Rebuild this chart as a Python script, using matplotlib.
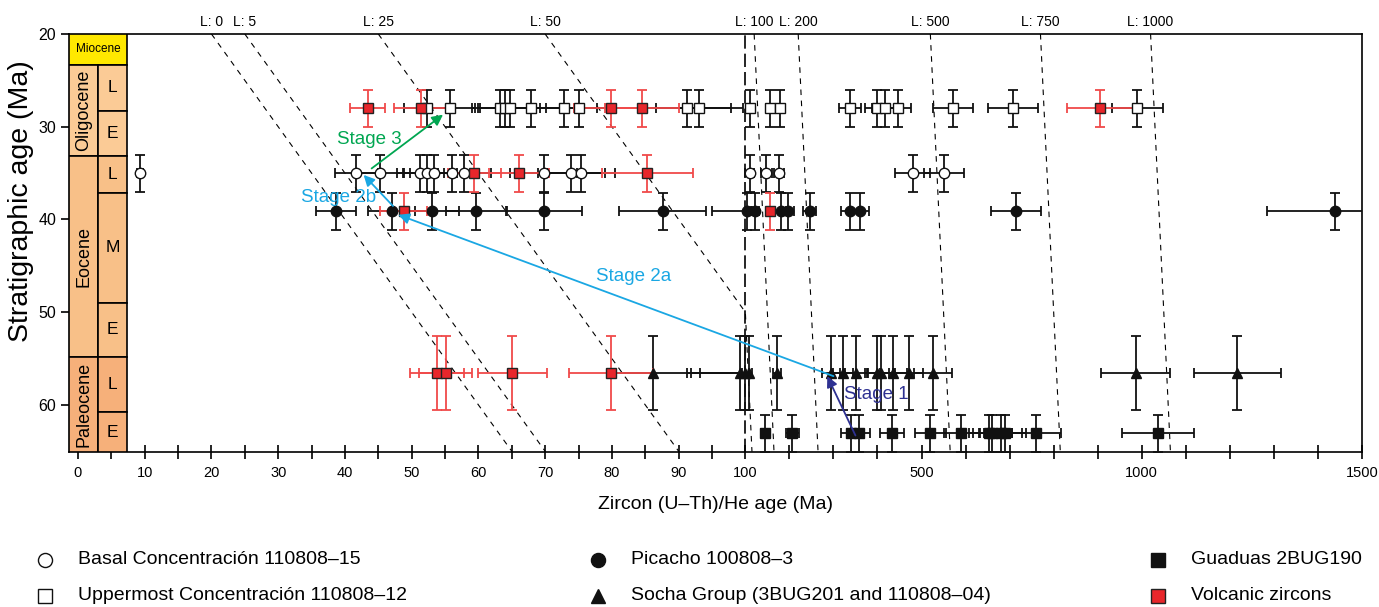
import numpy as np
import matplotlib
matplotlib.use("Agg")
import matplotlib.pyplot as plt
from matplotlib.patches import Rectangle
from matplotlib.lines import Line2D

plt.rcParams["font.family"] = ["Liberation Sans", "DejaVu Sans"]

# ---------------------------------------------------------------- data
# Uppermost Concentración 110808-12 (stratigraphic age 28 Ma)
upper_strat = 28.0
upper_age = [52.3, 55.7, 63.3, 64.0, 64.8, 67.9, 72.8, 75.1, 91.3, 93.1,
             111, 157, 178, 337, 399, 418, 446, 571, 708, 990]
upper_err = [3.5, 3.8, 4.2, 4.0, 4.5, 4.5, 5.0, 5.0, 6.5, 6.5,
             9, 10, 12, 25, 28, 30, 30, 45, 56, 58]
upper_volc_age = [43.4, 51.4, 79.8, 84.5, 905]
upper_volc_err = [2.6, 4.0, 5.5, 5.5, 75]

# Basal Concentración 110808-15 (35 Ma)
basal_strat = 35.0
basal_age = [9.3, 41.7, 45.2, 51.3, 52.3, 53.3, 56.1, 57.9, 69.8, 73.9, 75.4,
             110, 148, 176, 480, 551]
basal_err = [0.4, 3.2, 3.5, 3.5, 3.5, 3.5, 4.0, 4.0, 5.0, 5.0, 5.0,
             10, 12, 12, 40, 45]
basal_volc_age = [59.4, 66.1, 85.3]
basal_volc_err = [4.0, 4.5, 6.8]

# Picacho 100808-3 (39 Ma)
picacho_strat = 39.1
picacho_age = [38.7, 47.0, 53.1, 59.6, 69.9, 87.6, 104, 123, 180, 197, 246,
               337, 360, 714, 1439]
picacho_err = [3.0, 3.5, 4.0, 4.5, 5.6, 6.5, 9, 9, 12, 13, 15,
               20, 20, 57, 155]
picacho_volc_age = [48.8, 157]
picacho_volc_err = [3.5, 10]

# Socha Group 3BUG201 and 110808-04 (56.6 Ma)
socha_strat = 56.6
socha_age = [86.2, 99.2, 99.9, 107.5, 172, 295, 322, 351, 399, 407, 436,
             471, 527, 986, 1217]
socha_err = [7.0, 8, 8, 8, 10, 20, 22, 25, 28, 28, 30, 32, 43, 79, 98]
socha_volc_age = [53.8, 55.1, 65.1, 79.9]
socha_volc_err = [4.0, 4.0, 5.2, 6.3]

# Guaduas 2BUG190 (63 Ma)
guaduas_strat = 63.07
guaduas_age = [145, 207, 339, 359, 433, 520, 590, 653, 661, 680, 689, 761,
               1036]
guaduas_err = [10, 14, 22, 24, 28, 35, 40, 45, 45, 48, 48, 55, 82]

strat_err = {"upper": 2.0, "basal": 2.0, "picacho": 2.0, "socha": 4.0,
             "guaduas": 2.0}

# lag-time isochrons (ZHe age = stratigraphic age + lag)
lag_times = [0, 5, 25, 50, 100, 200, 500, 750, 1000]

# chronostratigraphic column (Ma)
epochs = [("Miocene", 20.0, 23.3), ("Oligocene", 23.3, 33.2),
          ("Eocene", 33.2, 54.8), ("Paleocene", 54.8, 65.1)]
subepochs = [("L", 23.3, 28.3), ("E", 28.3, 33.2), ("L", 33.2, 37.1),
             ("M", 37.1, 49.0), ("E", 49.0, 54.8), ("L", 54.8, 60.8),
             ("E", 60.8, 65.1)]
epoch_colors = {"Miocene": "#FFE800", "Oligocene": "#FBCB96",
                "Eocene": "#F8C088", "Paleocene": "#F6B07A"}

# exhumation stages: (label, tail, head, label position)
stages = [
    ("Stage 1", (350, 63.3), (286, 56.9), (398, 58.9), "#2E3192"),
    ("Stage 2a", (300, 56.9), (48.0, 39.5), (83.2, 46.2), "#1AA7E3"),
    ("Stage 2b", (47.2, 38.55), (42.8, 35.2), (39.0, 37.6), "#1AA7E3"),
    ("Stage 3", (44.0, 34.5), (54.7, 28.7), (43.6, 31.4), "#00A651"),
]

# ---------------------------------------------------------------- scale
BREAK = 100.0
K = 0.066  # compression of the axis above the break


def fwd(x):
    x = np.asarray(x, dtype=float)
    return np.where(x <= BREAK, x, BREAK + (x - BREAK) * K)


def inv(y):
    y = np.asarray(y, dtype=float)
    return np.where(y <= BREAK, y, BREAK + (y - BREAK) / K)


fig = plt.figure(figsize=(13.79, 6.07), dpi=100)
ax = fig.add_axes([69.3 / 1379, 1 - 451.7 / 607,
                   (1362 - 69.3) / 1379, (451.7 - 34) / 607])
ax.set_xscale("function", functions=(fwd, inv))
ax.set_xlim(-1.3, 1500)
ax.set_ylim(65.05, 20)

BLACK = "#111111"
RED = "#E8262B"
RED_BAR = "#F04A4A"

# lag-time lines
for L in lag_times:
    t = [20.0, 65.05]
    if 20.0 < BREAK - L < 65.05:
        t = [20.0, BREAK - L, 65.05]
    t = np.array(t)
    ax.plot(t + L, t, color="black", lw=0.8, ls=(0, (5, 5)), zorder=1)
    ax.text(20 + L, 1.012, f"L: {L}", transform=ax.get_xaxis_transform(),
            ha="center", va="bottom", fontsize=10)

# scale break
ax.axvline(BREAK, color="black", lw=1.2, ls=(0, (8, 3)), zorder=1)


def draw(ages, errs, strat, yerr, **kw):
    ax.errorbar(ages, [strat] * len(ages), xerr=errs, yerr=yerr,
                fmt="none", ecolor=kw.pop("ecolor", BLACK), elinewidth=1.3,
                capsize=3.5, capthick=1.3, zorder=3)
    ax.plot(ages, [strat] * len(ages), ls="none", zorder=4, **kw)


open_sq = dict(marker="s", ms=7.0, mfc="white", mec=BLACK, mew=1.0)
open_ci = dict(marker="o", ms=7.5, mfc="white", mec=BLACK, mew=1.0)
fill_ci = dict(marker="o", ms=7.5, mfc=BLACK, mec=BLACK, mew=1.0)
fill_tr = dict(marker="^", ms=7.5, mfc=BLACK, mec=BLACK, mew=1.0)
fill_sq = dict(marker="s", ms=7.0, mfc=BLACK, mec=BLACK, mew=1.0)
volc_sq = dict(marker="s", ms=7.0, mfc=RED, mec="#222222", mew=1.0,
               ecolor=RED_BAR)

draw(upper_age, upper_err, upper_strat, strat_err["upper"], **open_sq)
draw(basal_age, basal_err, basal_strat, strat_err["basal"], **open_ci)
draw(picacho_age, picacho_err, picacho_strat, strat_err["picacho"], **fill_ci)
draw(socha_age, socha_err, socha_strat, strat_err["socha"], **fill_tr)
draw(guaduas_age, guaduas_err, guaduas_strat, strat_err["guaduas"], **fill_sq)
draw(upper_volc_age, upper_volc_err, upper_strat, strat_err["upper"], **dict(volc_sq))
draw(basal_volc_age, basal_volc_err, basal_strat, strat_err["basal"], **dict(volc_sq))
draw(picacho_volc_age, picacho_volc_err, picacho_strat, strat_err["picacho"], **dict(volc_sq))
draw(socha_volc_age, socha_volc_err, socha_strat, strat_err["socha"], **dict(volc_sq))

# stratigraphic column
x0, xm, x1 = -1.3, 3.04, 7.35
for name, top, bot in epochs:
    col = epoch_colors[name]
    if name == "Miocene":
        ax.add_patch(Rectangle((x0, top), x1 - x0, bot - top, fc=col,
                               ec="black", lw=1.2, zorder=5))
        ax.text((x0 + x1) / 2, (top + bot) / 2, name, ha="center",
                va="center", fontsize=8.5, zorder=6)
    else:
        ax.add_patch(Rectangle((x0, top), xm - x0, bot - top, fc=col,
                               ec="black", lw=1.2, zorder=5))
        ax.text((x0 + xm) / 2, (top + bot) / 2, name, ha="center",
                va="center", rotation=90, fontsize=13, zorder=6)
for name, top, bot in subepochs:
    parent = [e for e in epochs if e[1] <= top < e[2]][0][0]
    ax.add_patch(Rectangle((xm, top), x1 - xm, bot - top,
                           fc=epoch_colors[parent], ec="black", lw=1.2,
                           zorder=5))
    ax.text((xm + x1) / 2, (top + bot) / 2, name, ha="center", va="center",
            fontsize=12.5, zorder=6)

# stage arrows
for label, tail, head, pos, color in stages:
    ax.annotate("", xy=head, xytext=tail,
                arrowprops=dict(arrowstyle="-|>", color=color, lw=1.3,
                                mutation_scale=16, shrinkA=0, shrinkB=0),
                zorder=7)
    ax.text(pos[0], pos[1], label, color=color, fontsize=13.5, ha="center",
            va="center", zorder=7)

# axes styling
major = [0, 10, 20, 30, 40, 50, 60, 70, 80, 90, 100, 500, 1000, 1500]
minor = [5, 15, 25, 35, 45, 55, 65, 75, 85, 95] + \
        [200, 300, 400, 600, 700, 800, 900, 1100, 1200, 1300, 1400]
ax.set_xticks(major)
ax.set_xticklabels([str(v) for v in major])
ax.set_xticks(minor, minor=True)
ax.tick_params(axis="x", which="both", direction="inout", length=10,
               width=1.2, labelsize=10.5, pad=5)
ax.set_yticks([20, 30, 40, 50, 60])
ax.tick_params(axis="y", direction="out", length=6, width=1.2,
               labelsize=11.5)
for s in ax.spines.values():
    s.set_linewidth(1.2)
ax.set_xlabel("Zircon (U–Th)/He age (Ma)", fontsize=14, labelpad=12)
ax.set_ylabel("Stratigraphic age (Ma)", fontsize=20.5)
ax.yaxis.set_label_coords(-0.027, 0.60)

# legend
leg = [
    (45, 560, open_ci, "Basal Concentración 110808–15"),
    (45, 596, open_sq, "Uppermost Concentración 110808–12"),
    (598, 560, fill_ci, "Picacho 100808–3"),
    (598, 596, fill_tr, "Socha Group (3BUG201 and 110808–04)"),
    (1158, 560, fill_sq, "Guaduas 2BUG190"),
    (1158, 596, {k: v for k, v in volc_sq.items() if k != "ecolor"},
     "Volcanic zircons"),
]
W, H = 1379.0, 607.0
for px, py, style, text in leg:
    st = dict(style)
    st["ms"] = st["ms"] * 1.35
    fig.add_artist(Line2D([px / W], [1 - py / H], ls="none",
                          transform=fig.transFigure, **st))
    fig.text((px + 33) / W, 1 - py / H, text, fontsize=14, va="center",
             ha="left")

fig.savefig("out.png", dpi=100)
